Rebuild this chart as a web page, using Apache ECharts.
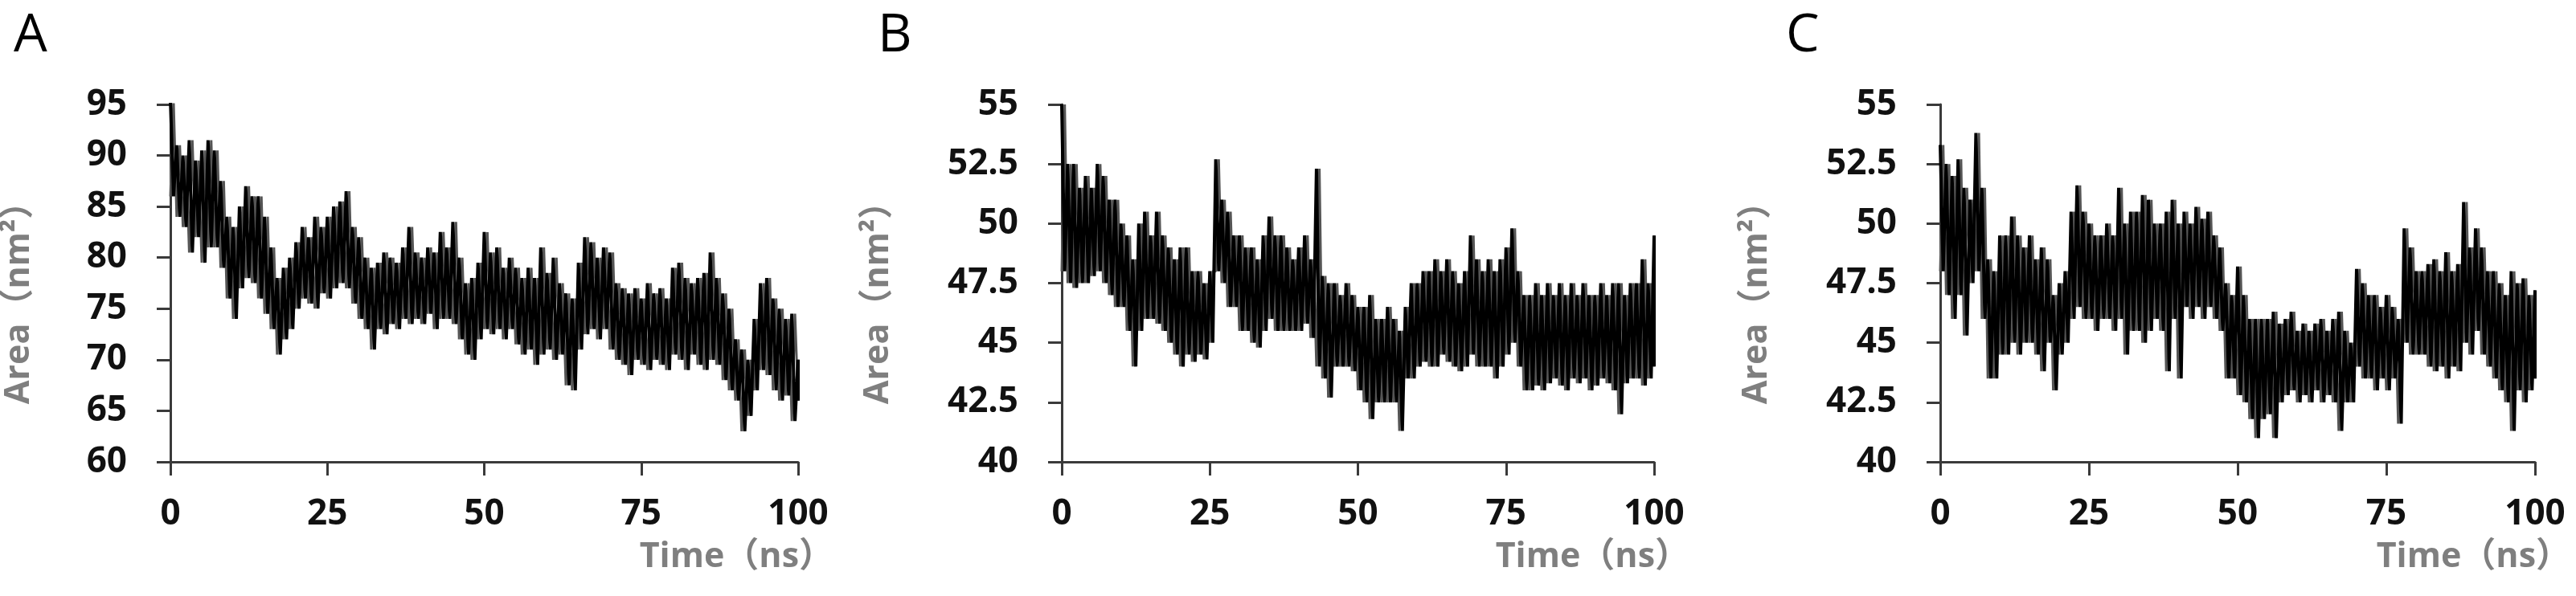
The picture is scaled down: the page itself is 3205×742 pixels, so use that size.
<!DOCTYPE html>
<html>
<head>
<meta charset="utf-8">
<script src="https://cdn.jsdelivr.net/npm/echarts@6/dist/echarts.min.js"></script>
<style>
  html, body { margin: 0; padding: 0; background: #fff; }
  #chart { width: 3205px; height: 742px; }
</style>
</head>
<body>
<div id="chart"></div>
<script>
// time axis (ns), one reading per ns
const timeNs = Array.from({ length: 101 }, (_, i) => i);
const xTicks = [0, 25, 50, 75, 100];

// A: upper / lower edge of the trace, read per ns
const areaA_hi = [95.5, 91, 90, 91.5, 89.5, 90.5, 91.5, 90.5, 87.5, 84, 83, 85, 87, 86, 86, 84, 81, 78, 79, 80,
  81.5, 83, 82, 84, 83, 84, 85, 85.5, 86.5, 83, 82, 80, 79, 79.5, 80.5, 80, 79.5, 81, 83, 80.5,
  80, 81, 80.5, 82.5, 81, 83.5, 80, 77.5, 78, 79.5, 82.5, 80.5, 81, 79, 80, 79, 78, 79, 78, 81,
  78.5, 80, 77.5, 76.5, 76, 79.5, 82, 81.5, 80, 81, 80.5, 77.5, 77, 76.5, 77, 76, 77.5, 76.5, 77, 76,
  79, 79.5, 78, 77.5, 78, 78.5, 80.5, 78, 76.5, 75, 72, 71, 70, 74, 77.5, 78, 76, 75, 74, 74.5, 70];
const areaA_lo = [86, 84, 83, 80.5, 82, 79.5, 81, 81, 79, 76, 74, 77, 78, 77.5, 76, 74.5, 73, 70.5, 72, 73,
  75, 76, 75.5, 75, 76.5, 76, 77, 77.5, 77, 75.5, 74, 73, 71, 73, 72.5, 73.5, 73, 74, 73.5, 74,
  73.5, 74.5, 73, 74, 74, 73.5, 72, 70.5, 70, 72, 73, 72.5, 73, 72, 73, 71.5, 70.5, 71, 69.5, 70.5,
  71, 70, 70.5, 67.5, 67, 71, 72.5, 73, 72, 73, 71, 70, 69.5, 68.5, 70, 69.5, 69, 70, 69.5, 69,
  70.5, 70, 69, 70.5, 69.5, 69, 70, 69.5, 68, 67, 66, 63, 64.5, 67, 69, 68.5, 67, 66, 66.5, 64, 66];

// B
const areaB_hi = [55, 52.5, 52.5, 51.5, 52, 51.5, 52.5, 52, 51, 51, 50, 49.5, 48.5, 50, 50.5, 49.5, 50.5, 49.5, 49, 48.5,
  49, 49, 48, 48, 47.5, 48, 52.7, 51, 50.5, 49.5, 49.5, 49, 49, 48.5, 49.5, 50.3, 49.5, 49.5, 49, 48.5,
  49, 49.5, 48.5, 52.3, 47.8, 47.5, 47.5, 47, 47.5, 47, 46.5, 46.5, 47, 46, 46, 46.5, 46, 45.5, 46.5, 47.5,
  47.5, 48, 48, 48.5, 48, 48.5, 48, 47.5, 48, 49.5, 48.5, 48, 48.5, 48, 48.5, 49, 49.8, 48, 47, 47,
  47.5, 47, 47.5, 47, 47.5, 47, 47.5, 47, 47.5, 47, 47, 47.5, 47, 47.5, 47.5, 47, 47.5, 47.5, 48.5, 47.5, 49.5];
const areaB_lo = [48, 47.5, 47.3, 47.5, 47.5, 47.8, 48, 47.5, 47, 46.5, 46.5, 45.5, 44, 45.5, 46, 46, 45.8, 45.5, 45, 44.5,
  44, 44.5, 44.2, 44.5, 44.3, 45, 48, 47.5, 46.5, 46.5, 45.5, 45.5, 45, 44.8, 45.5, 46, 45.5, 45.5, 45.5, 45.5,
  45.5, 45.8, 45.2, 44, 43.5, 42.7, 44, 44, 44, 43.8, 43, 42.5, 41.8, 42.5, 42.5, 42.5, 42.5, 41.3, 43.5, 43.5,
  44, 44.2, 44, 44, 44.5, 44.2, 44, 43.8, 44, 44.5, 44, 44, 44, 43.5, 44, 44.5, 45, 44, 43, 43,
  43.2, 43, 43.3, 43.5, 43.2, 43, 43.5, 43.3, 43.5, 43, 43.2, 43.5, 43.3, 43, 42, 43.3, 43.5, 43.5, 43.2, 43.5, 44];

// C
const areaC_hi = [53.3, 52.5, 52, 52.7, 51.5, 51, 53.8, 51.5, 48.5, 48, 49.5, 49.5, 50.3, 49.5, 49, 49.5, 48.5, 49, 48.5, 47,
  47.5, 48, 50.5, 51.6, 50.5, 50, 49.5, 49.5, 50, 49.5, 51.5, 50, 50.5, 50.5, 51.2, 51, 50, 50, 50.5, 51,
  50, 50.5, 50, 50.7, 50.2, 50.5, 49.5, 49, 47.5, 47, 48.2, 47, 46, 46, 46, 46, 46.3, 45.8, 46, 46.3,
  45.5, 45.8, 45.5, 45.8, 46, 45.5, 46, 46.3, 45.5, 45, 48.1, 47.5, 47, 47, 46.5, 47, 46.5, 46, 49.8, 49,
  48, 48, 48.3, 48.5, 48, 48.8, 48, 48.3, 50.9, 49, 49.8, 49, 48, 48, 47.5, 47, 48, 47.5, 47.7, 47, 47.2];
const areaC_lo = [48, 47, 46, 47, 45.3, 47.5, 48, 46, 43.5, 43.5, 44.5, 44.5, 45, 44.5, 45, 45, 44.5, 43.8, 45, 43,
  44.5, 45, 46, 46.5, 46, 46, 45.5, 46, 46, 45.5, 46, 44.5, 45.5, 45.5, 45, 45.5, 46, 45.5, 43.8, 46,
  43.5, 46.5, 46, 46.5, 46, 46.5, 46, 45.5, 43.5, 43.5, 42.8, 42.5, 41.8, 41, 41.8, 42, 41, 42.5, 42.8, 43,
  42.5, 42.8, 42.5, 43, 42.5, 42.8, 42.5, 41.3, 42.5, 42.5, 44, 43.5, 43.5, 43, 43.5, 43, 43.5, 41.6, 45, 44.5,
  44.5, 44.5, 44, 43.8, 44, 43.5, 44, 43.8, 45, 44.5, 45.5, 44.5, 44, 43.5, 43, 42.5, 41.3, 43, 42.5, 43, 43.5];

const yTicksA = [60, 65, 70, 75, 80, 85, 90, 95];
const yTicksBC = [40, 42.5, 45, 47.5, 50, 52.5, 55];

const panels = [
  { letter: 'A', hi: areaA_hi, lo: areaA_lo, ticks: yTicksA, step: 5, left: 212, width: 781, nameGap: 167, letterX: 17 },
  { letter: 'B', hi: areaB_hi, lo: areaB_lo, ticks: yTicksBC, step: 2.5, left: 1321, width: 737, nameGap: 207, letterX: 1092 },
  { letter: 'C', hi: areaC_hi, lo: areaC_lo, ticks: yTicksBC, step: 2.5, left: 2414, width: 740, nameGap: 207, letterX: 2222 }
];

const FONT = '"Open Sans", "Noto Sans CJK SC", sans-serif';
const AXIS_COLOR = '#3a3a3a';

// trace goes from one edge to the other inside each ns
function trace(first, second) {
  const pts = [];
  timeNs.forEach((t, i) => {
    pts.push([t, first[i]]);
    pts.push([Math.min(t + 0.5, 100), second[i]]);
  });
  return pts;
}

function initOption() {
  const grid = [], xAxis = [], yAxis = [], series = [], graphic = [];
  panels.forEach((p, k) => {
    grid.push({ left: p.left, top: 130, width: p.width, height: 445, containLabel: false });
    xAxis.push({
      type: 'value', gridIndex: k, min: xTicks[0], max: xTicks[xTicks.length - 1], interval: 25,
      axisLine: { lineStyle: { color: AXIS_COLOR, width: 3 } },
      axisTick: { show: true, length: 17, lineStyle: { color: AXIS_COLOR, width: 3 } },
      axisLabel: { margin: 43, fontSize: 44, fontWeight: 'bold', color: '#111', fontFamily: FONT },
      splitLine: { show: false }
    });
    yAxis.push({
      type: 'value', gridIndex: k, min: p.ticks[0], max: p.ticks[p.ticks.length - 1], interval: p.step,
      name: 'Area（nm²）', nameLocation: 'middle', nameGap: p.nameGap, nameRotate: 90,
      nameTextStyle: { fontSize: 43, fontWeight: 'bold', color: '#7f7f7f', fontFamily: FONT, padding: [0, 28, 0, 0] },
      axisLine: { show: true, lineStyle: { color: AXIS_COLOR, width: 3 } },
      axisTick: { show: true, length: 17, lineStyle: { color: AXIS_COLOR, width: 3 } },
      axisLabel: { margin: 54, fontSize: 44, fontWeight: 'bold', color: '#111', fontFamily: FONT },
      splitLine: { show: false }
    });
    // grey trace behind, opposite phase, then the black trace
    series.push({
      type: 'line', xAxisIndex: k, yAxisIndex: k, data: trace(p.lo, p.hi),
      showSymbol: false, symbol: 'none', clip: true,
      lineStyle: { color: '#555', width: 3 }
    });
    series.push({
      type: 'line', xAxisIndex: k, yAxisIndex: k, data: trace(p.hi, p.lo),
      showSymbol: false, symbol: 'none', clip: true,
      lineStyle: { color: '#000', width: 4 }
    });
    graphic.push({
      type: 'text', left: p.letterX, top: 12,
      style: { text: p.letter, fontSize: 66, fill: '#000', fontFamily: FONT }
    });
    graphic.push({
      type: 'text', right: 3205 - (p.left + p.width + 44), top: 672,
      style: { text: 'Time（ns）', fontSize: 43, fontWeight: 'bold', fill: '#7f7f7f', fontFamily: FONT }
    });
  });
  return { animation: false, backgroundColor: '#fff', grid, xAxis, yAxis, series, graphic };
}

const chart = echarts.init(document.getElementById('chart'), null, { renderer: 'canvas' });
chart.setOption(initOption());
</script>
</body>
</html>
